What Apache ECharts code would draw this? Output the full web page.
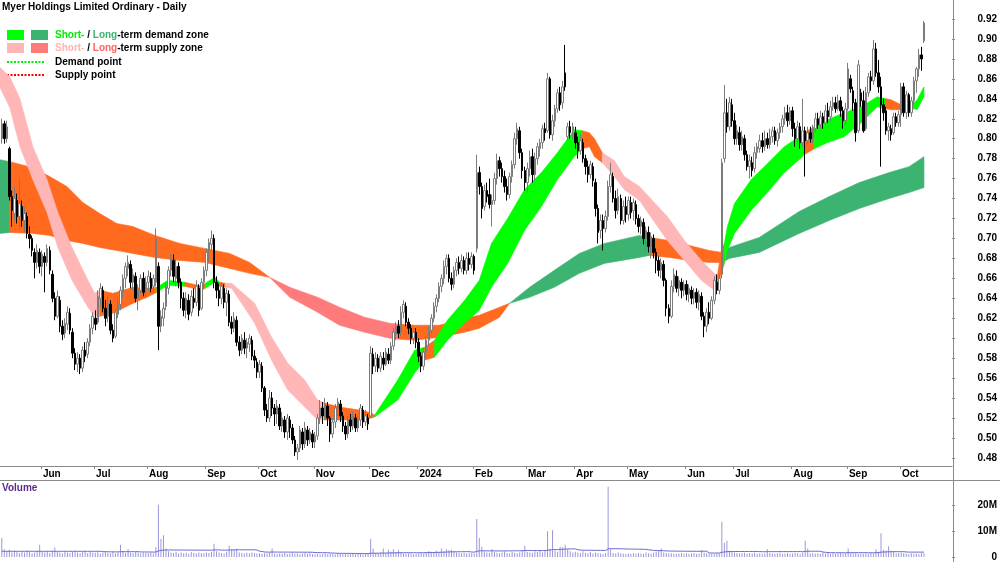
<!DOCTYPE html>
<html>
<head>
<meta charset="utf-8">
<script src="https://cdn.jsdelivr.net/npm/echarts@6/dist/echarts.min.js"></script>
<style>
html, body { margin: 0; padding: 0; background: #fff; }
#main { width: 1000px; height: 562px; }
</style>
</head>
<body>
<div id="main"></div>
<script>
// daily bars in thousandths of a dollar: [open, high, low, close]
const may23 = [[800,820,795,815],[815,818,795,800],[800,818,796,812],[790,792,738,742],[742,748,712,728],[725,752,718,740],[738,745,715,722],[722,760,710,735],[732,738,712,718],[718,732,706,725],[722,726,700,705],[704,712,690,700],[700,703,682,688],[686,690,660,676],[676,694,670,688],[686,690,665,672]]
const jun23 = [[672,688,662,684],[682,686,646,676],[676,694,672,690],[688,692,664,668],[664,668,636,640],[640,646,618,622],[622,648,620,642],[638,642,606,612],[612,618,598,604],[605,620,600,615],[614,632,608,626],[625,630,604,608],[606,610,580,585],[585,590,568,574],[574,586,566,580],[580,584,564,570],[570,592,566,588],[588,596,576,582],[584,600,580,596],[596,614,592,610],[610,626,604,622]]
const jul23 = [[620,628,608,614],[616,648,614,642],[640,655,632,650],[648,652,626,630],[630,638,612,620],[622,642,616,636],[634,638,604,608],[608,614,596,600],[602,630,600,626],[624,640,620,634],[634,652,628,648],[646,664,640,660],[660,676,650,672],[670,683,662,676],[674,678,650,656],[656,670,648,664],[662,666,636,640],[640,654,628,648],[648,664,644,660],[660,666,642,646],[648,662,640,656]]
const aug23 = [[656,668,648,662],[660,666,646,650],[652,664,646,660],[656,710,652,700],[672,676,588,612],[612,628,606,622],[620,636,612,630],[632,656,628,652],[650,672,644,668],[668,685,662,680],[678,684,656,662],[660,680,652,672],[672,676,650,656],[656,660,630,640],[640,646,622,628],[628,646,620,640],[638,644,618,624],[626,648,622,642],[640,650,630,636],[636,658,632,652],[650,654,622,628],[630,660,628,656],[656,672,650,668]]
const sep23 = [[668,690,662,686],[686,700,676,696],[694,708,688,700],[700,704,650,656],[656,662,640,648],[648,655,632,640],[640,656,634,652],[650,654,630,636],[636,650,622,645],[644,648,612,616],[616,622,604,610],[610,626,606,620],[618,622,592,596],[596,602,582,588],[588,604,584,600],[598,606,584,590],[590,600,580,596],[594,604,586,600],[598,602,578,582],[582,588,570,578],[576,580,560,566]]
const oct23 = [[566,578,560,574],[572,576,546,550],[550,552,522,528],[528,534,516,520],[520,548,516,540],[540,546,522,530],[530,534,512,524],[524,538,514,532],[530,534,508,512],[512,526,506,520],[518,522,500,506],[506,524,498,520],[518,522,500,510],[510,514,494,498],[498,502,482,486],[486,494,478,490],[490,512,486,508],[506,510,488,494],[494,516,490,510],[508,512,492,498],[498,510,494,506],[504,508,490,496]]
const nov23 = [[496,506,490,502],[502,524,498,520],[520,538,514,530],[530,536,514,522],[522,540,518,534],[532,536,512,520],[520,522,496,504],[504,520,500,516],[516,534,510,530],[530,540,522,536],[534,538,516,522],[522,526,506,512],[512,516,498,504],[504,522,500,518],[518,524,506,512],[512,526,508,522],[520,524,506,510],[510,522,506,518],[518,534,512,530],[528,532,510,516],[516,528,512,522],[520,524,508,514]]
const dec23 = [[522,592,520,585],[584,590,564,572],[572,586,566,580],[580,584,566,570],[570,586,566,582],[580,586,568,574],[574,590,572,586],[584,590,574,578],[578,596,574,592],[592,610,588,606],[604,616,598,612],[612,618,600,605],[606,632,602,626],[626,638,620,634],[632,636,612,616],[616,620,604,610],[610,614,594,600],[600,610,594,606],[606,610,590,596]]
const jan24 = [[596,600,576,582],[582,586,566,572],[572,590,568,586],[586,602,580,598],[598,612,592,608],[608,624,604,620],[620,636,616,632],[632,644,626,640],[640,656,636,652],[652,664,646,660],[660,678,654,672],[672,684,664,680],[680,684,656,660],[660,666,648,654],[654,672,650,668],[668,680,662,676],[676,682,664,670],[670,684,666,678],[678,682,664,668],[668,686,664,680],[680,686,668,674],[674,686,670,682]]
const feb24 = [[682,684,664,668],[690,784,686,766],[766,772,744,752],[752,756,720,730],[732,754,728,748],[748,756,736,742],[744,760,730,734],[734,744,712,738],[738,766,734,760],[760,785,754,778],[778,782,762,770],[770,776,756,762],[762,768,746,752],[752,760,738,744],[744,766,740,762],[762,778,756,774],[774,806,770,800],[800,816,794,810],[808,812,780,786],[786,790,760,768],[768,772,748,756]]
const mar24 = [[756,776,746,770],[770,788,762,782],[782,790,756,764],[764,786,758,780],[780,796,774,792],[790,800,782,796],[796,814,790,810],[810,816,798,806],[808,866,806,860],[860,862,800,804],[804,824,798,818],[818,834,812,830],[830,850,826,846],[846,852,828,834],[836,858,830,852],[866,894,848,852],[802,816,798,812],[812,818,800,806],[808,816,800,812]]
const apr24 = [[806,812,790,796],[796,802,780,788],[788,804,784,798],[796,800,776,780],[780,784,764,772],[772,778,756,764],[764,778,760,774],[772,776,752,758],[756,760,722,730],[730,734,695,706],[708,724,700,718],[718,724,688,710],[710,728,706,722],[722,758,718,752],[752,776,746,764],[762,766,736,740],[740,748,720,728],[728,750,724,742],[740,744,714,718],[718,738,714,732],[732,742,716,724]]
const may24 = [[724,742,718,738],[736,742,720,726],[728,740,718,736],[734,738,714,720],[720,724,706,712],[712,722,704,718],[716,720,694,700],[700,712,688,708],[706,712,686,692],[692,706,680,702],[700,704,680,686],[686,690,665,678],[678,682,662,668],[668,680,660,676],[674,678,652,658],[658,660,622,630],[630,634,615,622],[622,658,620,652],[652,670,646,664],[662,668,646,650],[650,662,642,658],[656,660,640,648],[648,658,642,654]]
const jun24 = [[654,658,638,644],[644,654,636,650],[648,652,634,640],[640,650,634,646],[646,650,630,636],[636,648,628,644],[642,646,618,622],[622,626,601,612],[612,630,606,626],[626,636,614,620],[620,642,618,638],[638,662,634,658],[656,664,644,648],[648,664,644,660],[664,780,660,776],[780,854,776,826],[826,840,806,812],[812,842,808,836],[834,840,812,818]]
const jul24 = [[818,826,794,800],[800,814,794,808],[806,812,788,794],[794,808,788,802],[800,804,778,784],[784,788,768,772],[772,784,760,778],[776,782,762,768],[770,792,766,786],[786,796,780,792],[790,804,786,798],[798,806,786,792],[792,808,788,800],[800,806,790,794],[794,810,790,802],[802,812,796,808],[808,812,794,798],[798,810,792,806],[806,816,800,812],[812,824,806,820],[820,832,814,826],[826,834,812,818],[818,832,814,828]]
const aug24 = [[828,832,802,810],[810,816,792,800],[800,818,794,812],[812,816,790,796],[796,840,792,808],[808,812,762,798],[798,812,794,806],[806,812,796,800],[800,814,796,810],[810,826,806,820],[820,826,810,814],[814,828,810,822],[822,826,810,816],[816,834,814,828],[828,836,816,822],[822,838,818,832],[832,842,828,836],[836,842,826,830],[830,844,828,838],[838,842,822,828],[828,832,810,818],[818,836,814,830]]
const sep24 = [[830,876,828,870],[860,864,846,850],[848,852,828,836],[836,840,797,806],[808,879,806,874],[846,850,832,838],[838,848,806,808],[810,852,808,846],[846,866,842,862],[862,868,848,858],[858,899,854,890],[890,896,862,866],[866,879,846,852],[852,862,772,834],[834,840,818,826],[828,832,804,808],[808,816,798,812],[810,814,798,804],[806,826,804,822],[822,826,812,816],[816,828,812,824]]
const oct24 = [[824,856,812,852],[852,856,822,826],[826,848,820,844],[844,846,822,826],[826,842,822,838],[838,862,834,858],[858,872,846,870],[870,890,862,884],[884,892,868,880],[898,918,896,916]]

// daily volume, hundred-thousand shares
const volumes = [
  74,30,22,28,18,24,20,16,22,18,25,20,15,18,24,48,
  20,18,22,16,24,37,20,18,14,22,18,16,20,24,18,15,19,22,16,20,18,
  17,20,14,18,22,16,15,19,14,18,48,22,16,30,18,15,20,17,14,18,16,
  15,18,14,38,204,70,85,33,22,18,16,20,14,18,15,17,13,19,16,14,18,16,15,
  18,16,20,52,22,18,16,14,20,44,30,28,32,18,16,14,17,15,18,16,14,
  15,13,16,14,18,33,14,12,15,13,16,12,14,17,13,15,12,14,16,13,15,12,
  11,13,10,12,14,11,13,12,10,14,12,11,13,10,12,14,11,13,12,10,12,14,
  70,33,16,14,18,33,16,28,20,30,18,26,16,14,12,15,13,11,12,
  14,16,13,18,22,20,17,24,19,33,22,30,26,28,20,18,16,15,17,14,16,15,
  14,148,74,40,22,18,16,30,20,17,15,18,22,16,14,19,17,15,18,24,44,
  20,18,16,22,19,24,18,23,100,33,104,24,20,40,38,48,30,22,18,
  20,18,16,22,17,15,19,14,18,16,14,12,16,274,30,16,14,18,15,13,12,
  14,12,15,13,16,14,12,18,15,13,17,20,24,33,18,16,14,15,13,12,14,16,13,
  15,13,14,16,12,14,26,18,15,14,13,12,16,14,137,56,63,24,20,
  18,16,14,15,17,13,16,14,18,12,15,13,14,30,16,14,13,15,17,12,14,16,13,
  14,16,15,12,18,63,33,14,16,13,15,12,17,14,16,13,15,12,14,16,13,15,
  33,15,14,16,12,14,13,15,12,16,14,30,20,93,28,25,42,24,22,14,16,
  18,16,14,12,15,13,14,12,16,15
]

const monthLabels = ['Jun', 'Jul', 'Aug', 'Sep', 'Oct', 'Nov', 'Dec', '2024', 'Feb', 'Mar', 'Apr', 'May', 'Jun', 'Jul', 'Aug', 'Sep', 'Oct']
const monthStarts = [16, 37, 58, 81, 102, 124, 146, 165, 187, 208, 227, 248, 271, 290, 313, 335, 356]
const priceTicks = [0.48, 0.5, 0.52, 0.54, 0.56, 0.58, 0.6, 0.62, 0.64, 0.66, 0.68, 0.7, 0.72, 0.74, 0.76, 0.78, 0.8, 0.82, 0.84, 0.86, 0.88, 0.9, 0.92]
const volumeTicks = [0, 10e6, 20e6]

// long-term zone: x in bar index, lower and upper edge
const longX = [-1, 3.2, 12.3, 19, 25.8, 32.1, 38.8, 45.5, 51.9, 60.6, 70.5, 80.3, 90.2, 98.1, 106, 114, 125, 133.7, 143.6, 153.5, 157.5, 163.4, 173.3, 183.2, 189, 197, 201, 208.9, 218.7, 228.6, 238.5, 252.4, 256.3, 264.2, 272.1, 280, 285, 288, 299.8, 315.6, 327.5, 339.4, 351.2, 359.1, 365]
const longLo = [.705, .706, .705, .703, .698, .695, .691, .688, .685, .681, .678, .676, .670, .665, .661, .641, .626, .613, .606, .600, .599, .598, .601, .606, .610, .621, .635, .641, .651, .665, .675, .681, .683, .681, .678, .676, .676, .680, .686, .705, .718, .730, .740, .746, .751]
const longHi = [.779, .777, .771, .762, .752, .736, .725, .715, .712, .703, .695, .690, .685, .676, .661, .651, .641, .631, .621, .615, .614, .613, .613, .620, .623, .631, .635, .651, .668, .685, .695, .703, .701, .698, .693, .688, .686, .691, .701, .727, .742, .756, .766, .772, .782]
// [first sample, last sample, zone state]
const longZones = [[0, 1, 'demand'], [1, 14, 'mixed'], [14, 20, 'supply'], [20, 26, 'mixed'], [26, 32, 'demand'], [32, 36, 'mixed'], [36, 44, 'demand']]

// short-term zone
const shortX = [-1, 3.2, 7.2, 12.3, 17.9, 22.2, 27.8, 34.1, 36.8, 38.8, 44, 51.9, 57.4, 61.4, 65.7, 72.5, 79.2, 80.5, 84.3, 86.3, 88.5, 91, 100.1, 106.8, 113.2, 119.9, 125, 127.8, 133.7, 141.6, 146.4, 147.6, 156.7, 163.4, 167.3, 171.3, 176.4, 183.2, 189, 193.8, 200.2, 206.9, 213.6, 219.9, 226.6, 229.8, 232.6, 234.6, 237.7, 242.5, 246.4, 252.4, 263.4, 270.2, 276.9, 282, 283.2, 284.8, 286, 287.2, 290, 296.6, 303, 309.7, 315.6, 317.6, 321.6, 326.7, 333.4, 340.2, 346.5, 350, 352, 356, 360.3, 361.1, 362.3, 365]
const shortLo = [.853, .831, .792, .759, .726, .691, .658, .631, .622, .622, .625, .635, .641, .646, .653, .652, .648, .650, .656, .652, .651, .650, .615, .578, .548, .531, .518, .518, .518, .518, .520, .521, .538, .565, .578, .581, .598, .615, .628, .651, .675, .708, .732, .759, .782, .790, .792, .782, .776, .762, .749, .738, .698, .678, .658, .648, .650, .665, .675, .688, .705, .728, .746, .766, .779, .784, .790, .796, .802, .816, .832, .830, .829, .829, .829, .830, .829, .842]
const shortHi = [.872, .862, .840, .792, .759, .726, .691, .658, .645, .648, .645, .651, .650, .651, .658, .656, .652, .655, .661, .656, .655, .655, .635, .601, .575, .558, .538, .535, .531, .528, .525, .523, .558, .588, .591, .598, .618, .638, .658, .695, .720, .749, .766, .786, .809, .808, .806, .800, .786, .778, .762, .752, .722, .698, .678, .665, .662, .688, .695, .712, .735, .759, .775, .792, .802, .806, .812, .819, .826, .832, .842, .840, .839, .834, .834, .836, .839, .852]
const shortZones = [[0, 9, 'supply'], [9, 13, 'mixed'], [13, 15, 'demand'], [15, 17, 'mixed'], [17, 19, 'demand'], [19, 20, 'mixed'], [20, 27, 'supply'], [27, 31, 'mixed'], [31, 34, 'demand'], [34, 35, 'mixed'], [35, 45, 'demand'], [45, 48, 'mixed'], [48, 56, 'supply'], [56, 58, 'mixed'], [58, 65, 'demand'], [65, 66, 'mixed'], [66, 71, 'demand'], [71, 75, 'mixed'], [75, 77, 'demand']]

const bars = [].concat(may23, jun23, jul23, aug23, sep23, oct23, nov23, dec23, jan24, feb24, mar24, apr24, may24, jun24, jul24, aug24, sep24, oct24)

const FONT = '"Liberation Sans", Arial, sans-serif'
const shortColors = { demand: '#00ff00', supply: '#ffb6b6', mixed: '#ff6a1f' }
const longColors = { demand: '#3cb371', supply: '#ff7a7a', mixed: '#ff6a1f' }

// volume average line; the first n days use the average of the opening window
function movingAverage(list, n) {
	let out = []
	let first = list.slice(0, n).reduce((a, b) => a + b, 0) / n
	let sum = 0
	for (let i = 0; i < list.length; i++) {
		sum += list[i]
		if (i >= n) sum -= list[i - n]
		out.push([i, (i < n - 1 ? first : sum / n) * 1e5])
	}
	return out
}

function zoneSeries(xs, lo, hi, zones, colors, z) {
	return {
		type: 'custom',
		xAxisIndex: 0,
		yAxisIndex: 0,
		z: z,
		clip: true,
		silent: true,
		data: zones.map((zn) => [xs[zn[0]], lo[zn[0]]]),
		renderItem: (params, api) => {
			let zn = zones[params.dataIndex]
			let pts = []
			for (let k = zn[0]; k <= zn[1]; k++) pts.push(api.coord([xs[k], hi[k]]))
			for (let k = zn[1]; k >= zn[0]; k--) pts.push(api.coord([xs[k], lo[k]]))
			return {
				type: 'polygon',
				shape: { points: pts },
				style: { fill: colors[zn[2]], stroke: colors[zn[2]], lineWidth: 0.6 }
			}
		}
	}
}

const chart = echarts.init(document.getElementById('main'))
const tickAt = monthStarts.map((s) => s - 0.5)

chart.setOption({
	animation: false,
	backgroundColor: '#fff',
	textStyle: { fontFamily: FONT },
	grid: [
		{ left: 0, right: 47, top: 0, height: 466 },
		{ left: 0, right: 47, top: 480, height: 81 }
	],
	xAxis: [
		{
			gridIndex: 0,
			type: 'value',
			min: -0.7,
			max: 376.1,
			axisLine: { show: true, onZero: false, lineStyle: { color: '#8a8a8a', width: 1 } },
			axisTick: { show: true, customValues: tickAt, length: 3, lineStyle: { color: '#8a8a8a' } },
			axisLabel: {
				customValues: tickAt,
				formatter: (v) => monthLabels[monthStarts.indexOf(v + 0.5)] || '',
				align: 'left',
				verticalAlign: 'middle',
				margin: 8,
				padding: [0, 0, 0, 2],
				fontWeight: 'bold',
				fontSize: 10,
				color: '#000'
			},
			splitLine: { show: false }
		},
		{ gridIndex: 1, type: 'value', min: -0.7, max: 376.1, show: false }
	],
	yAxis: [
		{
			gridIndex: 0,
			type: 'value',
			position: 'right',
			min: 0.47188,
			max: 0.93905,
			axisLine: { show: false, onZero: false },
			axisTick: { show: true, customValues: priceTicks, length: 3, lineStyle: { color: '#8a8a8a' } },
			axisLabel: {
				customValues: priceTicks,
				formatter: (v) => v.toFixed(2),
				align: 'right',
				margin: 45,
				fontWeight: 'bold',
				fontSize: 10,
				color: '#000'
			},
			splitLine: { show: false }
		},
		{
			gridIndex: 1,
			type: 'value',
			position: 'right',
			min: 0,
			max: 30e6,
			axisLine: { show: false, onZero: false },
			axisTick: { show: true, customValues: volumeTicks, length: 3, lineStyle: { color: '#8a8a8a' } },
			axisLabel: {
				customValues: volumeTicks,
				formatter: (v) => (v ? v / 1e6 + 'M' : '0'),
				align: 'right',
				margin: 45,
				fontWeight: 'bold',
				fontSize: 10,
				color: '#000'
			},
			splitLine: { show: false }
		}
	],
	series: [
		zoneSeries(longX, longLo, longHi, longZones, longColors, 1),
		zoneSeries(shortX, shortLo, shortHi, shortZones, shortColors, 2),
		{
			type: 'candlestick',
			xAxisIndex: 0,
			yAxisIndex: 0,
			z: 5,
			barWidth: 2,
			encode: { x: 0, y: [1, 2, 3, 4] },
			data: bars.map((b, i) => [i, b[0] / 1000, b[3] / 1000, b[2] / 1000, b[1] / 1000]),
			itemStyle: { color: '#fff', color0: '#000', borderColor: '#7c7c7c', borderColor0: '#000', borderWidth: 1 }
		},
		{
			type: 'bar',
			xAxisIndex: 1,
			yAxisIndex: 1,
			barWidth: 1,
			data: volumes.map((v, i) => [i, v * 1e5]),
			itemStyle: { color: '#9898dc' }
		},
		{
			type: 'line',
			xAxisIndex: 1,
			yAxisIndex: 1,
			showSymbol: false,
			data: movingAverage(volumes, 40),
			lineStyle: { color: '#6a6ad0', width: 1 }
		}
	],
	graphic: [
		{ type: 'line', shape: { x1: 953.5, y1: 0, x2: 953.5, y2: 562 }, style: { stroke: '#8a8a8a', lineWidth: 1 } },
		{ type: 'line', shape: { x1: 0, y1: 480.5, x2: 1000, y2: 480.5 }, style: { stroke: '#8a8a8a', lineWidth: 1 } },
		{ type: 'text', left: 2, top: 2, style: { text: 'Myer Holdings Limited Ordinary - Daily', font: 'bold 10px ' + FONT, fill: '#000' } },
		{ type: 'rect', shape: { x: 7, y: 30, width: 17, height: 10 }, style: { fill: shortColors.demand } },
		{ type: 'rect', shape: { x: 31, y: 30, width: 17, height: 10 }, style: { fill: longColors.demand } },
		{ type: 'rect', shape: { x: 7, y: 43, width: 17, height: 10 }, style: { fill: shortColors.supply } },
		{ type: 'rect', shape: { x: 31, y: 43, width: 17, height: 10 }, style: { fill: longColors.supply } },
		{ type: 'line', shape: { x1: 7, y1: 62, x2: 44, y2: 62 }, style: { stroke: '#00ee00', lineWidth: 2, lineDash: [2, 1.5] } },
		{ type: 'line', shape: { x1: 7, y1: 75, x2: 44, y2: 75 }, style: { stroke: '#ff0000', lineWidth: 2, lineDash: [2, 1.5] } },
		{
			type: 'text', x: 55, y: 35,
			style: {
				text: '{a|Short-} / {b|Long}-term demand zone',
				font: 'bold 10px ' + FONT, fill: '#000', verticalAlign: 'middle',
				rich: { a: { fill: '#00ee00', font: 'bold 10px ' + FONT }, b: { fill: '#3cb371', font: 'bold 10px ' + FONT } }
			}
		},
		{
			type: 'text', x: 55, y: 48,
			style: {
				text: '{a|Short-} / {b|Long}-term supply zone',
				font: 'bold 10px ' + FONT, fill: '#000', verticalAlign: 'middle',
				rich: { a: { fill: '#ffb3b3', font: 'bold 10px ' + FONT }, b: { fill: '#ff6464', font: 'bold 10px ' + FONT } }
			}
		},
		{ type: 'text', x: 55, y: 62, style: { text: 'Demand point', font: 'bold 10px ' + FONT, fill: '#000', verticalAlign: 'middle' } },
		{ type: 'text', x: 55, y: 75, style: { text: 'Supply point', font: 'bold 10px ' + FONT, fill: '#000', verticalAlign: 'middle' } },
		{ type: 'text', left: 2, top: 483, style: { text: 'Volume', font: 'bold 10px ' + FONT, fill: '#5b2a8c' } }
	]
})
</script>
</body>
</html>
